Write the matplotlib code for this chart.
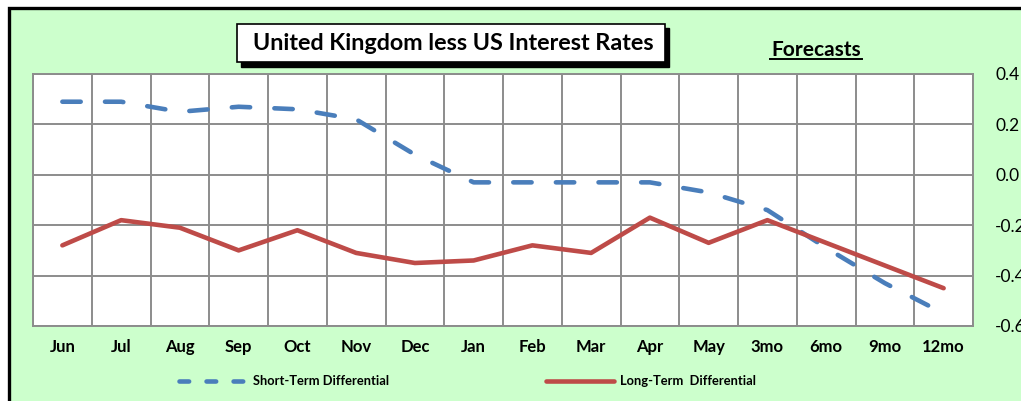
import matplotlib
matplotlib.use('Agg')
import matplotlib.pyplot as plt
from matplotlib.patches import Rectangle
from matplotlib.lines import Line2D

# data
categories = ['Jun', 'Jul', 'Aug', 'Sep', 'Oct', 'Nov', 'Dec', 'Jan',
              'Feb', 'Mar', 'Apr', 'May', '3mo', '6mo', '9mo', '12mo']
short_term = [0.29, 0.29, 0.25, 0.27, 0.26, 0.22, 0.08, -0.03,
              -0.03, -0.03, -0.03, -0.07, -0.14, -0.29, -0.43, -0.55]
long_term = [-0.28, -0.18, -0.21, -0.30, -0.22, -0.31, -0.35, -0.34,
             -0.28, -0.31, -0.17, -0.27, -0.18, -0.27, -0.36, -0.45]
y_ticks = [0.4, 0.2, 0.0, -0.2, -0.4, -0.6]

BLUE = '#4A7EBB'
RED = '#BE4B48'
GREEN = '#CCFFCC'
W, H = 1021, 401

plt.rcParams['font.family'] = ['Lato', 'DejaVu Sans']


def fx(x):
    return x / W


def fy(y):
    return 1 - y / H


fig = plt.figure(figsize=(W / 100, H / 100), dpi=100)
fig.patch.set_facecolor('white')

# green panel with black frame (runs off right/bottom edges)
fig.add_artist(Rectangle((fx(8.5), -0.05), 1.1, fy(8) + 0.05,
                         transform=fig.transFigure, facecolor=GREEN,
                         edgecolor='black', linewidth=2.4, zorder=0))

ax = fig.add_axes([fx(33), fy(326), fx(973) - fx(33), fy(74) - fy(326)])
ax.set_facecolor('white')
x = range(len(categories))
ax.plot(x, short_term, color=BLUE, linewidth=3.3, dashes=(4, 5.3),
        dash_capstyle='round', zorder=3)
ax.plot(x, long_term, color=RED, linewidth=3.3, solid_capstyle='round',
        zorder=3)

ax.set_xlim(-0.5, len(categories) - 0.5)
ax.set_ylim(-0.6, 0.4)
ax.set_xticks([i + 0.5 for i in range(-1, len(categories))], minor=False)
ax.set_xticklabels([])
ax.set_xticks(list(x), minor=True)
ax.set_xticklabels(categories, minor=True, fontsize=12, fontweight='bold')
ax.set_yticks(y_ticks)
ax.set_yticklabels(['%.1f' % v for v in y_ticks], fontsize=12.5)
ax.yaxis.tick_right()
ax.tick_params(axis='both', which='both', length=0)
ax.tick_params(axis='x', which='minor', pad=9.5)
ax.tick_params(axis='y', pad=16)
ax.grid(True, which='major', color='#8C8C8C', linewidth=1.4)
ax.set_axisbelow(True)
for s in ax.spines.values():
    s.set_color('#8C8C8C')
    s.set_linewidth(1.4)

# title box with drop shadow
fig.add_artist(Rectangle((fx(241), fy(67)), fx(669) - fx(241), fy(28) - fy(67),
                         transform=fig.transFigure, facecolor='black',
                         edgecolor='black', zorder=4))
fig.add_artist(Rectangle((fx(237), fy(62)), fx(665) - fx(237), fy(24) - fy(62),
                         transform=fig.transFigure, facecolor='white',
                         edgecolor='black', linewidth=1.2, zorder=5))
fig.text(fx(453), fy(44), 'United Kingdom less US Interest Rates',
         fontsize=16.8, fontweight='bold', ha='center', va='center', zorder=6)

fig.text(fx(816), fy(50), 'Forecasts', fontsize=15, fontweight='bold',
         ha='center', va='center')
fig.add_artist(Line2D([fx(770), fx(862)], [fy(59), fy(59)],
                      transform=fig.transFigure, color='black', linewidth=1.4))

# legend
ly = fy(381)
fig.add_artist(Line2D([fx(179), fx(246)], [ly, ly], transform=fig.transFigure,
                      color=BLUE, linewidth=3.3, dashes=(2.1, 3.8),
                      dash_capstyle='round'))
fig.text(fx(253), ly, 'Short-Term Differential', fontsize=9.3,
         fontweight='bold', ha='left', va='center')
fig.add_artist(Line2D([fx(546), fx(614)], [ly, ly], transform=fig.transFigure,
                      color=RED, linewidth=3.3, solid_capstyle='round'))
fig.text(fx(620), ly, 'Long-Term  Differential', fontsize=9.3,
         fontweight='bold', ha='left', va='center')

fig.savefig('out.png', dpi=100, facecolor=fig.get_facecolor())
